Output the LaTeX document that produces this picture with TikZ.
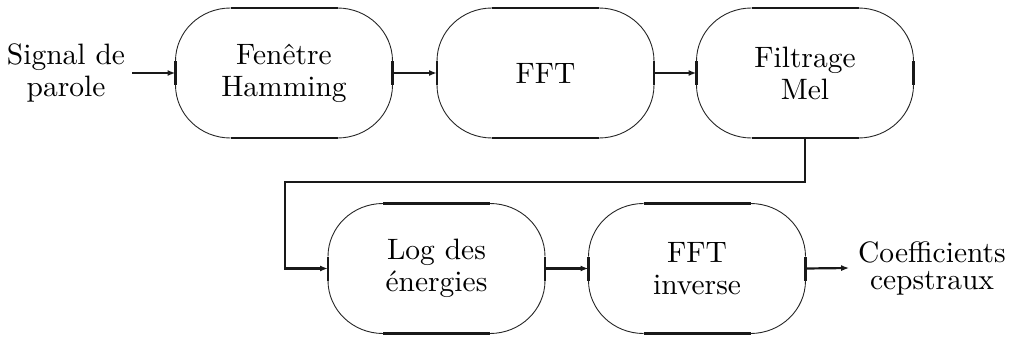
\documentclass[tikz,border=0pt]{standalone}
\usepackage{fontspec}
\setmainfont{lmroman10-regular.otf}
\usetikzlibrary{arrows.meta}

% Rounded processing block: thick straight edges, thin elliptical corners
\newcommand\stadium[1]{%
  \draw[edgeline] ([xshift=55pt]#1.north west) -- ([xshift=-55pt]#1.north east);
  \draw[edgeline] ([xshift=55pt]#1.south west) -- ([xshift=-55pt]#1.south east);
  \draw[edgeline] ([yshift=-12pt]#1.west) -- ([yshift=12pt]#1.west);
  \draw[edgeline] ([yshift=-12pt]#1.east) -- ([yshift=12pt]#1.east);
  \draw[cornerline] ([xshift=-55pt]#1.north east)
      arc[start angle=90, end angle=0, x radius=55pt, y radius=53pt];
  \draw[cornerline] ([yshift=-12pt]#1.east)
      arc[start angle=0, end angle=-90, x radius=55pt, y radius=53pt];
  \draw[cornerline] ([xshift=55pt]#1.south west)
      arc[start angle=-90, end angle=-180, x radius=55pt, y radius=53pt];
  \draw[cornerline] ([yshift=12pt]#1.west)
      arc[start angle=180, end angle=90, x radius=55pt, y radius=53pt];
}

\tikzset{
  edgeline/.style={line width=2.4pt, black!90},
  cornerline/.style={line width=0.9pt, black!85},
  block/.style={rectangle, minimum width=217pt, minimum height=130pt,
    inner sep=0pt, outer sep=0pt, align=center,
    font=\fontsize{29.5}{32}\selectfont},
  label/.style={align=center, inner sep=0pt, outer sep=0pt,
    font=\fontsize{29.5}{32}\selectfont},
  flow/.style={line width=2.2pt, black!90,
    -{Latex[length=8pt, width=6pt]}},
}

\begin{document}
\begin{tikzpicture}[x=1pt, y=1pt]
  \useasboundingbox (0,0) rectangle (1010,338);

  % upper row
  \node[label] (sig) at (66,265) {Signal de\\parole};
  \node[block] (win) at (284,265) {Fenêtre\\Hamming};
  \node[block] (fft) at (545.5,265) {FFT};
  \node[block] (mel) at (805,265) {Filtrage\\Mel};

  % lower row
  \node[block] (log) at (436.5,69.5) {Log des\\énergies};
  \node[block] (ifft) at (697,69.5) {FFT\\inverse};
  \node[label, font=\fontsize{29.5}{27}\selectfont] (cep) at (932,70)
    {Coefficients\\cepstraux};

  \foreach \b in {win,fft,mel,log,ifft} {\stadium{\b}}

  \coordinate (turn) at (285,156);

  \draw[flow] ([xshift=7pt]sig.east) -- (win.west);
  \draw[flow] (win.east) -- (fft.west);
  \draw[flow] (fft.east) -- (mel.west);
  \draw[flow] (mel.south) |- (turn) |- (log.west);
  \draw[flow] (log.east) -- (ifft.west);
  \draw[flow] (ifft.east) -- ([xshift=-9pt]cep.west);
\end{tikzpicture}
\end{document}
